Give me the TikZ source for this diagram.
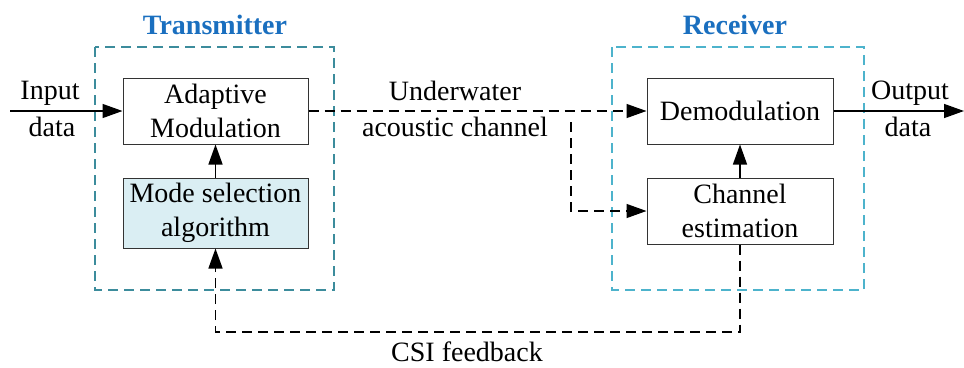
\documentclass[tikz,border=0pt]{standalone}
\usepackage{fontspec}
\setmainfont{Liberation Serif}
\usetikzlibrary{arrows.meta}
\definecolor{txframe}{HTML}{3C8C9C}
\definecolor{rxframe}{HTML}{4DB3CC}
\definecolor{titleblue}{HTML}{1A6FBF}
\definecolor{selfill}{HTML}{DAEEF3}
\begin{document}
\begin{tikzpicture}[x=1pt,y=-1pt,
  every node/.style={font=\fontsize{28}{34}\selectfont, inner sep=0pt},
  block/.style={draw=black!80, line width=1pt, minimum width=185pt, align=center},
  frame/.style={line width=1.2pt, dash pattern=on 10pt off 6pt},
  sig/.style={line width=1.4pt, -{Triangle[length=20pt,width=14pt]}},
  dsig/.style={sig, dash pattern=on 10pt off 6pt},
  title/.style={font=\fontsize{28}{34}\selectfont\bfseries, text=titleblue}]
  \useasboundingbox (0,0) rectangle (964,367);

  % dashed enclosures
  \draw[frame, txframe] (95,47) rectangle (334,290);
  \draw[frame, rxframe] (612,47) rectangle (864,290);
  \node[title] (txt) at (215,25) {Transmitter};
  \node[title] (rxt) at (735,25) {Receiver};

  % blocks
  \node[block, minimum height=66pt] (am) at (215.5,111) {Adaptive\\Modulation};
  \node[block, minimum height=70pt, fill=selfill] (ms) at (215.5,213) {Mode selection\\algorithm};
  \node[block, minimum width=186pt, minimum height=66pt] (dem) at (740,111) {Demodulation};
  \node[block, minimum width=186pt, minimum height=66pt] (ce) at (740,211) {Channel\\estimation};

  % input / output
  \coordinate (in) at (10,111);
  \coordinate (out) at (964,111);
  \draw[sig] (in) -- (am.west);
  \draw[sig] (dem.east) -- (out);
  \node (inl1) at (50,93) {Input};
  \node (inl2) at (52,127) {data};
  \node (outl1) at (910,93) {Output};
  \node (outl2) at (908,127) {data};

  % channel
  \draw[dsig] (am.east) -- (dem.west);
  \coordinate (br) at (571,122);
  \draw[dsig] (br) -- (br |- ce.west) -- (ce.west);
  \node (ch1) at (455,91) {Underwater};
  \node (ch2) at (455,127) {acoustic channel};

  % internal links
  \draw[sig] (ms.north) -- (am.south);
  \draw[sig] (ce.north) -- (dem.south);

  % feedback path
  \coordinate (fb) at (740,332);
  \draw[dsig] (ce.south) -- (fb) -- (fb -| ms.south) -- (ms.south);
  \node (fbl) at (467,352) {CSI feedback};
\end{tikzpicture}
\end{document}
